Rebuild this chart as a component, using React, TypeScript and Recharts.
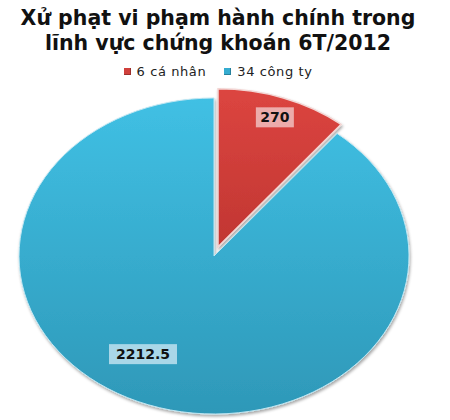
import { Cell, Legend, Pie, PieChart } from 'recharts'

const CATEGORIES = ['6 cá nhân', '34 công ty']
const VALUES = [270, 2212.5]
const LABELS = ['270', '2212.5']

const FILLS = ['url(#gradRed)', 'url(#gradCyan)']
const SWATCH = ['#d0403c', '#35acd0']
const LABEL_BG = ['rgba(240,190,190,0.85)', 'rgba(190,225,238,0.85)']

const data = CATEGORIES.map((name, i) => ({ name, value: VALUES[i], label: LABELS[i] }))

const CX = 214
const CY = 256
const RX = 195
const RY = 158
const RAD = Math.PI / 180

// ellipse point for a recharts angle (deg, ccw from 3 o'clock)
function pt(a: number, rx: number, ry: number, cx: number, cy: number) {
  return [cx + rx * Math.cos(a * RAD), cy - ry * Math.sin(a * RAD)]
}

function EllipseSector(props: any) {
  const { startAngle, endAngle, fill, payload } = props
  const exploded = payload?.name === CATEGORIES[0]
  const mid = (startAngle + endAngle) / 2
  const off = exploded ? 12 : 0
  const cx = CX + off * Math.cos(mid * RAD)
  const cy = CY - off * (RY / RX) * Math.sin(mid * RAD)
  const [x1, y1] = pt(startAngle, RX, RY, cx, cy)
  const [x2, y2] = pt(endAngle, RX, RY, cx, cy)
  const large = Math.abs(startAngle - endAngle) > 180 ? 1 : 0
  const d = `M${cx},${cy} L${x1},${y1} A${RX},${RY} 0 ${large} 1 ${x2},${y2} Z`
  return (
    <path
      d={d}
      fill={fill}
      stroke={exploded ? '#f3d6d4' : '#bfe6f2'}
      strokeWidth={exploded ? 1.5 : 1}
      filter="url(#shadow)"
    />
  )
}

function renderLabel(props: any) {
  const { midAngle, index } = props
  const shift = index === 0 ? 0 : -10.8
  const frac = index === 0 ? 0.87 : 0.72
  const off = index === 0 ? 12 : 0
  const a = midAngle + shift
  const cx = CX + off * Math.cos(midAngle * RAD)
  const cy = CY - off * (RY / RX) * Math.sin(midAngle * RAD)
  const [x, y] = pt(a, RX * frac, RY * frac, cx, cy)
  const text = LABELS[index]
  const w = text.length * 10 + 8
  return (
    <g key={`lbl-${index}`}>
      <rect x={x - w / 2} y={y - 10} width={w} height={20} fill={LABEL_BG[index]} />
      <text
        x={x}
        y={y + 5}
        textAnchor="middle"
        fontFamily="DejaVu Sans"
        fontWeight="bold"
        fontSize={14}
        fill="#111"
      >
        {text}
      </text>
    </g>
  )
}

function LegendContent() {
  return (
    <div
      style={{
        display: 'flex',
        justifyContent: 'center',
        gap: 18,
        fontFamily: 'DejaVu Sans',
        fontSize: 13,
        letterSpacing: 0.6,
        color: '#222',
      }}
    >
      {CATEGORIES.map((c, i) => (
        <span key={c} style={{ display: 'flex', alignItems: 'center' }}>
          <span
            style={{
              display: 'inline-block',
              width: 7,
              height: 7,
              marginRight: 6,
              background: SWATCH[i],
              boxShadow: 'inset -1px -1px 0 rgba(0,0,0,0.25)',
            }}
          />
          {c}
        </span>
      ))}
    </div>
  )
}

export default function App() {
  return (
    <div style={{ position: 'absolute', left: 0, top: 0, width: 450, height: 420, background: '#fff' }}>
      <div
        style={{
          position: 'absolute',
          top: 6,
          left: 0,
          width: 436,
          textAlign: 'center',
          fontFamily: 'DejaVu Sans',
          fontWeight: 'bold',
          fontSize: 20.5,
          lineHeight: '25px',
          color: '#111',
        }}
      >
        Xử phạt vi phạm hành chính trong
        <br />
        lĩnh vực chứng khoán 6T/2012
      </div>
      <PieChart width={450} height={420} margin={{ top: 0, right: 0, bottom: 0, left: 0 }}>
        <defs>
          <linearGradient id="gradCyan" x1="0" y1="0" x2="0" y2="1">
            <stop offset="0%" stopColor="#40c0e4" />
            <stop offset="100%" stopColor="#2e98b8" />
          </linearGradient>
          <linearGradient id="gradRed" x1="0" y1="0" x2="0" y2="1">
            <stop offset="0%" stopColor="#dc4540" />
            <stop offset="100%" stopColor="#c13632" />
          </linearGradient>
          <filter id="shadow" x="-10%" y="-10%" width="120%" height="125%">
            <feDropShadow dx="1" dy="2" stdDeviation="1.5" floodColor="#000" floodOpacity="0.35" />
          </filter>
        </defs>
        <Legend
          verticalAlign="top"
          content={LegendContent}
          wrapperStyle={{ position: 'absolute', top: 64, left: 0, width: 436 }}
        />
        <Pie
          data={data}
          dataKey="value"
          nameKey="name"
          cx={CX}
          cy={CY}
          outerRadius={RX}
          startAngle={90}
          endAngle={-270}
          stroke="none"
          shape={EllipseSector}
          label={renderLabel}
          labelLine={false}
          isAnimationActive={false}
        >
          {data.map((d, i) => (
            <Cell key={d.name} fill={FILLS[i]} />
          ))}
        </Pie>
      </PieChart>
    </div>
  )
}
